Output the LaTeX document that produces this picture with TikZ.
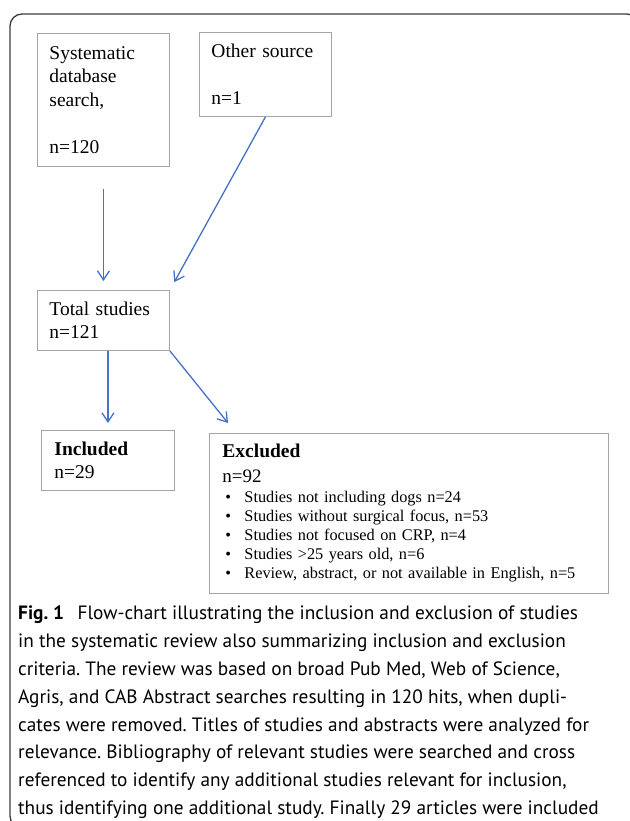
\documentclass[tikz,border=0pt]{standalone}
\usepackage{fontspec}
\setmainfont{Liberation Serif}
\newfontfamily\capfont{PT Sans}
\usepackage{tikz}
\usetikzlibrary{arrows.meta,positioning}
\definecolor{arrowblue}{RGB}{68,114,196}
\definecolor{boxgray}{RGB}{165,165,165}
\definecolor{framegray}{RGB}{60,60,60}
\tikzstyle{stage}=[rectangle, draw=boxgray, line width=0.9pt, anchor=north west, align=left, inner xsep=12pt, inner ysep=0pt, font=\fontsize{19.5}{23.5}\selectfont]
\tikzstyle{flow}=[->, draw=arrowblue, line width=1.3pt]
\newcommand{\bul}{\hspace*{3pt}\makebox[19pt][l]{\textbullet}}
\frenchspacing

\begin{document}
\begin{tikzpicture}[x=1pt,y=-1pt,>={Straight Barb[length=9pt,width=12pt]}]
    \useasboundingbox (0,0) rectangle (629,821);
    \draw[framegray, line width=1.3pt, rounded corners=12pt] (10,14) rectangle (639,828);

    \node (sys) [stage, text width=108pt, minimum height=133pt] at (37,33) {Systematic\\database\\search,\\[23.5pt]n=120};
    \node (oth) [stage, text width=108pt, minimum height=84pt] at (199,32) {Other source\\[23.5pt]n=1};
    \node (tot) [stage, text width=108pt, minimum height=60pt] at (37,290) {Total studies\\n=121};
    \node (inc) [stage, inner xsep=13pt, text width=107pt, minimum height=60pt] at (41,430) {\textbf{Included}\\n=29};
    \node (exc) [stage, inner xsep=13pt, text width=373pt, minimum height=160pt, font=\fontsize{16.3}{19}\selectfont] at (209,433)
      {{\fontsize{19.5}{19}\selectfont\textbf{Excluded}}\\[6pt]
       {\fontsize{19}{19}\selectfont n=92}\\[1pt]
       \bul Studies not including dogs n=24\\
       \bul Studies without surgical focus, n=53\\
       \bul Studies not focused on CRP, n=4\\
       \bul Studies >25 years old, n=6\\
       \bul Review, abstract, or not available in English, n=5};
    \coordinate (excin) at ([shift={(19pt,10pt)}]exc.north west);

    \draw[flow, shorten <=22pt, shorten >=9pt] (sys) -- (tot);
    \draw[flow, shorten >=9pt] (oth.south) -- (tot.north east);
    \draw[flow, shorten >=7pt] (tot.south -| inc.north) -- (inc.north);
    \draw[flow] (tot.south east) -- (excin);

    \node (cap) [anchor=north west, align=left, inner sep=0pt, font=\capfont\fontsize{19.3}{27.8}\selectfont] at (18,606)
      {\textbf{Fig. 1}\hspace{0.7em}Flow-chart illustrating the inclusion and exclusion of studies\\
       in the systematic review also summarizing inclusion and exclusion\\
       criteria. The review was based on broad Pub Med, Web of Science,\\
       Agris, and CAB Abstract searches resulting in 120 hits, when dupli-\\
       cates were removed. Titles of studies and abstracts were analyzed for\\
       relevance. Bibliography of relevant studies were searched and cross\\
       referenced to identify any additional studies relevant for inclusion,\\
       thus identifying one additional study. Finally 29 articles were included};
\end{tikzpicture}
\end{document}
